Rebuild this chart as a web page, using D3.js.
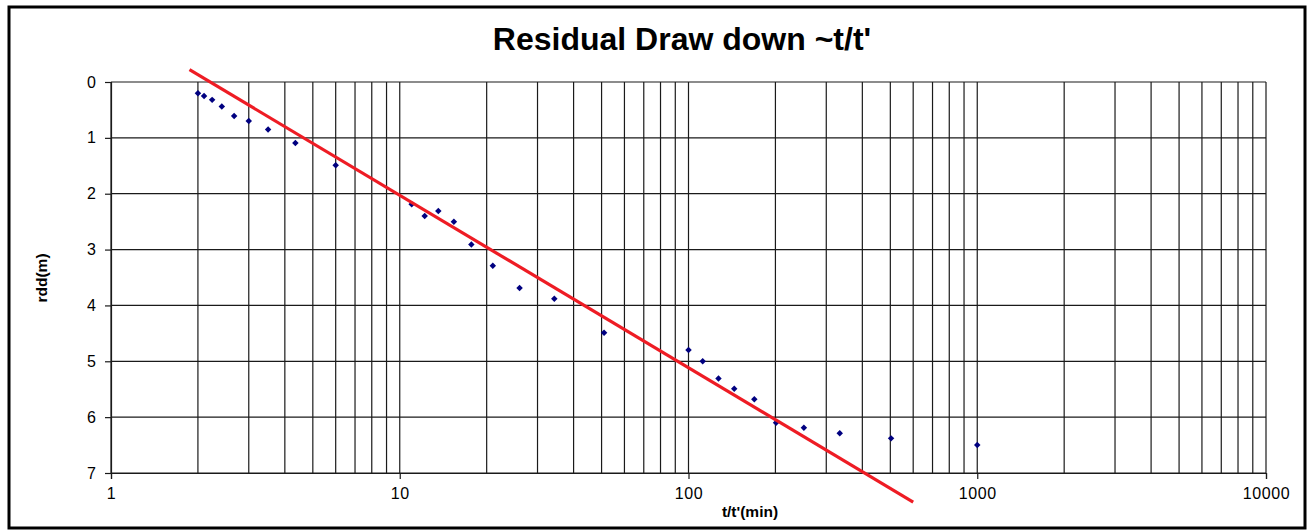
<!DOCTYPE html>
<html>
<head>
<meta charset="UTF-8">
<script src="https://d3js.org/d3.v7.min.js"></script>
<style>
  body { margin: 0; background: #fff; }
  text { font-family: "Liberation Sans", Arial, sans-serif; }
</style>
</head>
<body>
<svg id="chart" width="1307" height="531"></svg>
<script>
// measured points: t/t' and residual drawdown (m)
const ttPrime = [2.0, 2.1, 2.24, 2.42, 2.67, 3.0, 3.5, 4.35, 6.0,
  11.0, 12.2, 13.6, 15.4, 17.7, 21.0, 26.0, 34.3, 51.0,
  100, 112, 127, 144, 169, 201, 251, 334, 503, 1000];
const rdd = [0.2, 0.25, 0.32, 0.44, 0.61, 0.7, 0.85, 1.09, 1.49,
  2.19, 2.4, 2.31, 2.5, 2.91, 3.29, 3.69, 3.88, 4.49,
  4.8, 5.0, 5.31, 5.49, 5.68, 6.1, 6.19, 6.29, 6.38, 6.5];

// straight fit line (end points)
const fitX = [1.87, 600];
const fitY = [-0.22, 7.52];

const xTickValues = [1, 10, 100, 1000, 10000];
const yTickValues = [0, 1, 2, 3, 4, 5, 6, 7];

const svg = d3.select("#chart");
const plotLeft = 111, plotRight = 1266, plotTop = 82, plotBottom = 473;

const x = d3.scaleLog().domain([1, 10000]).range([plotLeft, plotRight]);
const y = d3.scaleLinear().domain([0, 7]).range([plotTop, plotBottom]);

// outer frame
svg.append("rect")
  .attr("x", 9).attr("y", 7)
  .attr("width", 1296).attr("height", 521)
  .attr("fill", "#fff")
  .attr("stroke", "#000")
  .attr("stroke-width", 3);

// title
svg.append("text")
  .attr("x", 682).attr("y", 49.5)
  .attr("text-anchor", "middle")
  .attr("font-size", 32)
  .attr("font-weight", "bold")
  .text("Residual Draw down ~t/t'");

// vertical grid lines at every 1..9 of each decade
const minor = [];
for (let d = 1; d < 10000; d *= 10) {
  for (let k = 1; k < 10; k++) minor.push(d * k);
}
minor.push(10000);

svg.append("g").selectAll("line")
  .data(minor)
  .join("line")
  .attr("x1", d => x(d)).attr("x2", d => x(d))
  .attr("y1", plotTop).attr("y2", plotBottom)
  .attr("stroke", "#1a1a1a")
  .attr("stroke-width", 1.2);

// horizontal grid lines
svg.append("g").selectAll("line")
  .data(yTickValues)
  .join("line")
  .attr("x1", plotLeft).attr("x2", plotRight)
  .attr("y1", d => y(d)).attr("y2", d => y(d))
  .attr("stroke", "#1a1a1a")
  .attr("stroke-width", 1.2);

// y axis
const yAxis = svg.append("g")
  .attr("transform", `translate(${plotLeft},0)`)
  .call(d3.axisLeft(y).tickValues(yTickValues).tickSize(6).tickPadding(9).tickFormat(d3.format("d")));
yAxis.select(".domain").attr("stroke", "#1a1a1a").attr("stroke-width", 1.2);
yAxis.selectAll(".tick line").attr("stroke", "#1a1a1a").attr("stroke-width", 1.2);
yAxis.selectAll("text").attr("font-size", 16).attr("fill", "#000")
  .attr("font-family", "Liberation Sans, Arial, sans-serif");

// x axis
const xAxis = svg.append("g")
  .attr("transform", `translate(0,${plotBottom})`)
  .call(d3.axisBottom(x).tickValues(xTickValues).tickSize(6).tickPadding(9).tickFormat(d3.format("d")));
xAxis.select(".domain").attr("stroke", "#1a1a1a").attr("stroke-width", 1.2);
xAxis.selectAll(".tick line").attr("stroke", "#1a1a1a").attr("stroke-width", 1.2);
xAxis.selectAll("text").attr("font-size", 16).attr("fill", "#000")
  .attr("font-family", "Liberation Sans, Arial, sans-serif")
  .attr("letter-spacing", 0.6);

// axis titles
svg.append("text")
  .attr("x", 750).attr("y", 517)
  .attr("text-anchor", "middle")
  .attr("font-size", 15.5)
  .attr("font-weight", "bold")
  .attr("font-family", "DejaVu Sans, sans-serif")
  .text("t/t'(min)");

svg.append("text")
  .attr("transform", "translate(47,278) rotate(-90)")
  .attr("text-anchor", "middle")
  .attr("font-size", 15.5)
  .attr("font-weight", "bold")
  .attr("font-family", "DejaVu Sans, sans-serif")
  .text("rdd(m)");

// data points
const pts = ttPrime.map((t, i) => [t, rdd[i]]);
svg.append("g").selectAll("path")
  .data(pts)
  .join("path")
  .attr("d", d3.symbol().type(d3.symbolSquare).size(21))
  .attr("transform", d => `translate(${x(d[0])},${y(d[1])}) rotate(45)`)
  .attr("fill", "#000080");

// fitted line
svg.append("line")
  .attr("x1", x(fitX[0])).attr("y1", y(fitY[0]))
  .attr("x2", x(fitX[1])).attr("y2", y(fitY[1]))
  .attr("stroke", "#ee1c24")
  .attr("stroke-width", 3.2);
</script>
</body>
</html>
